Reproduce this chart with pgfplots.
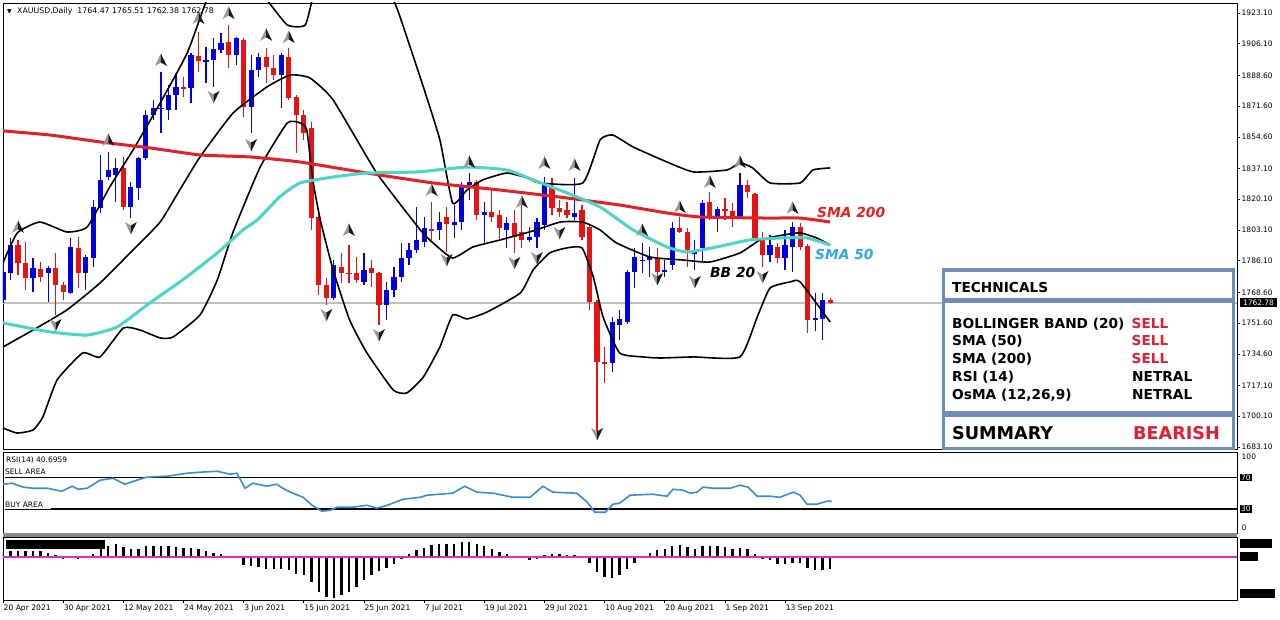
\documentclass[border=0pt]{standalone}
\usepackage{fontspec}
\setmainfont{DejaVu Sans}[ItalicFont={DejaVu Sans Oblique},BoldFont={DejaVu Sans Bold},BoldItalicFont={DejaVu Sans Bold Oblique}]
\usepackage{pgfplots}
\usepackage{pgfplotstable}
\pgfplotsset{compat=1.18}

\definecolor{bull}{RGB}{0,0,225}
\definecolor{bear}{RGB}{232,18,18}
\definecolor{smared}{RGB}{228,32,36}
\definecolor{smacyan}{RGB}{76,212,196}
\definecolor{smalbl}{RGB}{41,171,226}
\definecolor{rsiblue}{RGB}{56,140,220}
\definecolor{osmag}{RGB}{222,40,222}
\definecolor{boxblue}{RGB}{112,140,184}
\definecolor{sellred}{RGB}{226,30,48}

\pgfdeclareplotmark{fup}{%
 \pgfpathmoveto{\pgfqpoint{0pt}{6.5pt}}\pgfpathlineto{\pgfqpoint{-6pt}{-6pt}}\pgfpathlineto{\pgfqpoint{0pt}{-2.5pt}}\pgfpathclose
 \pgfsetfillcolor{black!40}\pgfusepath{fill}%
 \pgfpathmoveto{\pgfqpoint{0pt}{6.5pt}}\pgfpathlineto{\pgfqpoint{6pt}{-6pt}}\pgfpathlineto{\pgfqpoint{0pt}{-2.5pt}}\pgfpathclose
 \pgfsetfillcolor{black!90}\pgfusepath{fill}}
\pgfdeclareplotmark{fdown}{%
 \pgfpathmoveto{\pgfqpoint{0pt}{-6.5pt}}\pgfpathlineto{\pgfqpoint{-6pt}{6pt}}\pgfpathlineto{\pgfqpoint{0pt}{2.5pt}}\pgfpathclose
 \pgfsetfillcolor{black!40}\pgfusepath{fill}%
 \pgfpathmoveto{\pgfqpoint{0pt}{-6.5pt}}\pgfpathlineto{\pgfqpoint{6pt}{6pt}}\pgfpathlineto{\pgfqpoint{0pt}{2.5pt}}\pgfpathclose
 \pgfsetfillcolor{black!90}\pgfusepath{fill}}

\pgfplotstableread{
i o h l c
0 1764.4 1783.8 1762.7 1779.9
1 1779.3 1798.7 1775.5 1794.8
4 1776.6 1787.6 1768.8 1782.1
6 1779.3 1783.2 1763.3 1782.1
9 1768.3 1798.7 1767.7 1793.7
11 1779.3 1789.3 1769.9 1788.2
12 1787.6 1819.7 1782.6 1815.8
13 1815.3 1844.6 1812.5 1830.8
14 1832.4 1846.2 1830.8 1836.3
15 1833.5 1842.9 1818.6 1837.4
17 1815.8 1829.7 1809.7 1826.9
18 1826.3 1843.5 1819.7 1842.9
19 1842.9 1869.5 1841.8 1866.7
20 1866.7 1875.0 1863.9 1870.6
21 1870.0 1890.5 1856.7 1870.6
22 1869.5 1883.3 1863.9 1877.8
23 1877.8 1889.9 1869.5 1882.2
25 1881.6 1901.0 1873.3 1899.9
27 1896.0 1904.3 1884.4 1897.1
28 1897.1 1909.3 1882.2 1903.2
29 1902.6 1912.0 1901.0 1906.5
31 1899.9 1909.8 1894.4 1909.3
33 1871.1 1899.9 1856.7 1891.6
34 1891.6 1901.0 1887.7 1898.8
37 1888.8 1901.0 1870.6 1899.9
44 1765.5 1786.5 1764.4 1783.8
48 1774.4 1790.4 1772.7 1781.0
51 1761.6 1774.4 1753.3 1769.9
52 1769.9 1782.6 1766.1 1777.1
53 1777.1 1795.9 1774.4 1787.6
54 1787.6 1795.9 1783.8 1792.1
55 1792.1 1815.8 1790.4 1797.6
56 1796.5 1810.3 1793.7 1804.2
58 1803.1 1813.1 1797.6 1807.5
60 1805.9 1816.9 1798.7 1807.5
61 1807.5 1829.7 1803.1 1828.0
62 1828.0 1834.6 1819.7 1829.7
64 1811.4 1818.6 1794.8 1813.1
67 1803.1 1810.3 1793.2 1807.0
70 1797.6 1804.8 1796.5 1799.2
71 1799.2 1809.7 1793.2 1807.5
72 1805.9 1832.4 1803.1 1829.1
76 1810.3 1831.9 1808.6 1812.5
81 1729.6 1755.0 1724.6 1752.2
82 1750.6 1758.9 1742.3 1753.9
83 1752.2 1781.0 1751.1 1779.9
84 1779.9 1793.2 1771.0 1788.2
85 1786.0 1795.9 1779.3 1786.5
86 1786.5 1793.7 1777.1 1788.2
88 1780.4 1786.5 1777.1 1781.0
89 1783.8 1807.5 1781.0 1804.2
92 1789.9 1797.6 1781.0 1790.9
93 1793.2 1819.7 1785.4 1818.0
95 1810.3 1815.8 1802.0 1814.7
98 1810.3 1834.6 1809.7 1828.0
102 1789.3 1800.3 1785.4 1794.8
104 1787.6 1803.1 1781.0 1794.8
105 1793.7 1807.5 1779.9 1804.8
108 1753.3 1768.3 1747.3 1754.4
109 1753.9 1768.3 1742.3 1764.47
}\bulltab

\pgfplotstableread{
i o h l c
2 1794.8 1797.6 1778.2 1784.9
3 1784.9 1796.5 1769.9 1776.6
5 1781.5 1785.4 1774.4 1777.1
7 1782.1 1790.4 1756.1 1772.7
8 1772.7 1774.4 1764.4 1768.8
10 1793.2 1799.2 1771.0 1779.3
16 1837.4 1843.5 1814.2 1815.8
24 1882.2 1887.7 1876.7 1881.4
26 1899.3 1912.6 1890.5 1896.6
30 1907.1 1916.5 1892.7 1899.9
32 1908.2 1909.3 1865.6 1871.1
35 1898.8 1903.7 1884.4 1893.2
36 1892.7 1899.9 1886.1 1888.8
38 1898.8 1903.7 1875.0 1876.1
39 1876.7 1877.8 1845.7 1866.7
40 1866.7 1869.5 1852.9 1856.7
41 1859.5 1862.8 1803.1 1809.7
42 1810.3 1811.4 1767.2 1772.7
43 1772.7 1776.6 1761.6 1765.5
45 1782.6 1790.4 1773.8 1779.3
46 1779.3 1794.8 1773.8 1778.8
47 1779.3 1788.2 1773.8 1775.5
49 1782.1 1786.5 1771.6 1779.3
50 1779.3 1779.9 1750.6 1761.6
57 1803.7 1818.6 1797.6 1802.6
59 1810.3 1815.8 1790.9 1806.4
63 1829.7 1830.8 1808.6 1811.4
65 1813.1 1825.2 1807.5 1810.3
66 1811.4 1814.2 1797.6 1804.2
68 1807.0 1814.2 1790.4 1799.2
69 1802.0 1816.9 1793.2 1797.6
73 1826.9 1831.9 1811.4 1815.3
74 1815.3 1819.7 1810.3 1813.1
75 1814.2 1818.6 1809.7 1811.4
77 1814.2 1816.9 1797.6 1799.2
78 1804.8 1805.9 1758.9 1763.3
79 1763.3 1764.4 1688.1 1730.1
80 1730.1 1738.4 1718.5 1729.3
87 1787.6 1793.2 1774.4 1779.9
90 1804.2 1810.3 1801.5 1802.0
91 1802.0 1804.2 1782.6 1792.1
94 1818.6 1824.1 1808.6 1810.3
96 1814.7 1820.8 1808.6 1813.6
97 1813.6 1818.0 1804.8 1810.3
99 1828.0 1830.8 1820.8 1824.1
100 1823.0 1823.6 1797.6 1798.7
101 1797.6 1802.0 1782.6 1789.3
103 1793.7 1795.9 1784.9 1787.6
106 1804.8 1807.0 1792.1 1793.7
107 1794.3 1795.4 1746.2 1753.3
110 1764.47 1765.51 1762.38 1762.78
}\beartab

\newcommand\tickfont{\fontsize{7.5}{9}\selectfont}
\pgfplotsset{panel/.style={scale only axis, width=1234pt, xmin=0, xmax=164.1,
  axis line style={line width=0.8pt}, tick style={line width=0.6pt, black},
  major tick length=3pt, tick align=outside,
  /pgf/number format/assume math mode=true,
  ticklabel style={font=\tickfont}},
  candle/.style={draw=none, mark=none, error bars/.cd, y dir=both, y explicit, error mark=none,
  error bar style={line width=#1}}}

\begin{document}
\begin{tikzpicture}[x=1pt,y=1pt]
\useasboundingbox (0,0) rectangle (1280,620);

% ---------------- main price panel ----------------
\begin{axis}[panel, at={(3pt,171pt)}, anchor=south west, height=446pt,
  ymin=1681.99, ymax=1928.63, xtick=\empty,
  ytick={1683.1,1700.1,1717.1,1734.6,1751.6,1768.6,1786.1,1803.1,1820.1,1837.1,1854.6,1871.6,1888.6,1906.1,1923.1},
  ytick pos=right, yticklabel pos=right, scaled y ticks=false,
  yticklabel style={anchor=west, inner sep=0pt, xshift=1.5pt,
    /pgf/number format/fixed, /pgf/number format/fixed zerofill,
    /pgf/number format/precision=2, /pgf/number format/1000 sep={}}]
% current price line
\addplot[black!25, line width=1.4pt] coordinates {(0,1762.78) (164.1,1762.78)};
% candles: wicks and bodies
\addplot[candle=1.2pt, error bar style={draw=bull}]
  table[x=i, y expr={(\thisrow{h}+\thisrow{l})/2}, y error expr={(\thisrow{h}-\thisrow{l})/2}] {\bulltab};
\addplot[candle=1.2pt, error bar style={draw=bear}]
  table[x=i, y expr={(\thisrow{h}+\thisrow{l})/2}, y error expr={(\thisrow{h}-\thisrow{l})/2}] {\beartab};
\addplot[candle=5.2pt, error bar style={draw=bull}]
  table[x=i, y expr={(\thisrow{o}+\thisrow{c})/2}, y error expr={max(abs(\thisrow{o}-\thisrow{c})/2,0.5)}] {\bulltab};
\addplot[candle=5.2pt, error bar style={draw=bear}]
  table[x=i, y expr={(\thisrow{o}+\thisrow{c})/2}, y error expr={max(abs(\thisrow{o}-\thisrow{c})/2,0.5)}] {\beartab};
% Bollinger bands (20)
\addplot[black, line width=1.6pt, smooth, tension=0.3] coordinates {(0,1784.9)(1.9,1801.5)(4.9,1807.5)(8.5,1802.0)(11.2,1804.8)(14.2,1826.9)(17.3,1847.4)(20.9,1873.3)(24.5,1901.0)(27.1,1930.3)(29.5,1946.9)(32.8,1941.4)(35.1,1930.3)(37.8,1916.5)(40.2,1916.5)(41.5,1935.8)(44.8,1963.5)(48.8,1952.4)(51.9,1930.3)(52.8,1920.9)(55.9,1882.2)(58.1,1852.9)(59.8,1818.0)(61.7,1825.2)(63.8,1830.8)(67.0,1834.6)(69.7,1831.9)(71.4,1829.1)(77.1,1829.1)(79.4,1852.9)(81.1,1855.6)(83.8,1849.0)(88.3,1840.7)(91.8,1835.2)(96.3,1836.3)(98.0,1840.2)(99.7,1837.4)(102.0,1829.1)(106.0,1829.1)(107.7,1836.3)(110.0,1837.4)};
\addplot[black, line width=1.6pt, smooth, tension=0.3] coordinates {(0,1738.4)(4.0,1747.8)(8.5,1758.9)(12.9,1773.8)(17.3,1792.1)(20.9,1807.5)(23.5,1825.2)(26.2,1843.5)(30.6,1867.8)(35.1,1882.2)(38.2,1888.8)(40.8,1887.2)(43.9,1875.0)(49.7,1834.6)(55.5,1803.1)(57.2,1795.9)(59.8,1787.6)(62.5,1793.7)(66.1,1797.6)(70.5,1802.6)(74.1,1807.5)(77.1,1807.5)(79.4,1803.1)(81.6,1795.9)(86.0,1788.2)(90.4,1786.5)(94.0,1785.4)(98.0,1790.4)(100.7,1797.6)(103.7,1800.3)(106.0,1801.5)(108.2,1798.7)(110.0,1794.8)};
\addplot[black, line width=1.6pt, smooth, tension=0.3] coordinates {(0,1693.6)(1.9,1690.8)(4.0,1692.5)(5.3,1699.7)(7.2,1720.2)(10.6,1735.1)(12.9,1732.9)(16.0,1748.9)(18.2,1747.8)(20.9,1743.4)(22.6,1743.9)(26.2,1756.1)(28.5,1775.5)(30.6,1802.0)(34.2,1837.9)(37.8,1862.3)(39.5,1862.3)(40.4,1858.4)(41.2,1830.8)(42.2,1808.6)(43.9,1781.0)(46.1,1753.3)(48.4,1735.1)(51.9,1714.6)(53.7,1713.0)(55.9,1721.8)(58.1,1738.4)(59.8,1756.1)(61.7,1753.9)(64.4,1757.8)(68.8,1768.3)(70.5,1781.0)(72.7,1790.4)(75.0,1793.2)(77.0,1793.2)(78.5,1777.1)(79.8,1755.0)(82.0,1735.1)(85.1,1732.9)(87.4,1732.3)(91.8,1732.9)(98.0,1732.9)(100.3,1755.0)(102.0,1771.0)(104.7,1774.4)(106.0,1774.4)(110.0,1752.2)};
% SMA 200 and SMA 50
\addplot[smared, line width=3pt, smooth, tension=0.3] coordinates {(0,1857.9)(6.3,1855.6)(12.9,1851.8)(19.5,1848.5)(26.2,1844.6)(32.8,1843.5)(39.5,1840.7)(48.4,1834.6)(57.2,1829.1)(66.1,1825.2)(75.0,1820.8)(82.0,1816.9)(88.3,1812.5)(92.7,1810.3)(101.6,1809.7)(106.0,1809.7)(110.0,1807.5)};
\addplot[smacyan, line width=3pt, smooth, tension=0.3] coordinates {(0,1751.7)(6.3,1746.7)(11.2,1745.0)(15.2,1749.5)(19.5,1762.7)(23.9,1775.5)(28.5,1790.4)(31.9,1803.1)(33.8,1808.6)(36.8,1821.4)(39.5,1829.1)(43.9,1832.4)(48.4,1834.6)(55.1,1835.2)(61.7,1837.9)(67.0,1836.3)(70.5,1830.8)(75.0,1823.6)(79.4,1815.8)(83.8,1803.1)(88.3,1793.7)(91.0,1790.9)(94.9,1793.7)(99.3,1797.6)(103.7,1798.7)(106.9,1798.7)(110.0,1794.8)};
% fractals
\addplot[only marks, mark=fup] coordinates {(2,1804.8)(14,1852.9)(21,1897.1)(26,1920.3)(30,1923.1)(35,1911.0)(38,1909.8)(46,1803.1)(57,1825.2)(62,1840.7)(69,1818.6)(72,1840.2)(76,1839.1)(85,1803.1)(90,1815.8)(94,1829.7)(98,1840.7)(105,1815.3)};
\addplot[only marks, mark=fdown] coordinates {(7,1750.6)(17,1804.2)(28,1876.7)(33,1850.1)(43,1756.1)(50,1745.0)(59,1786.5)(68,1784.9)(71,1787.6)(74,1801.5)(79,1690.3)(87,1776.0)(92,1774.4)(101,1777.1)};
\end{axis}

% ---------------- RSI panel ----------------
\begin{axis}[panel, at={(3pt,87pt)}, anchor=south west, height=81pt,
  ymin=0, ymax=102.2, xtick=\empty, ytick=\empty]
\addplot[black, line width=1.6pt] coordinates {(6.4,70) (164.1,70)};
\addplot[black, line width=1.6pt] coordinates {(6.4,30) (164.1,30)};
\addplot[black, line width=0.6pt] coordinates {(0.2,70) (6.4,70)};
\addplot[black, line width=0.6pt] coordinates {(0.2,30) (6.4,30)};
\addplot[rsiblue, line width=1.6pt] coordinates {(0,61.5)(1.2,62.8)(2.7,57.8)(4.0,56.5)(5.9,56.5)(7.8,52.7)(9.2,59.0)(10.0,55.2)(11.2,56.5)(12.9,66.6)(14.6,69.1)(16.2,61.5)(17.8,66.6)(19.1,70.4)(21.8,71.6)(24.5,75.4)(26.2,76.7)(28.5,77.9)(30.2,74.2)(31.1,75.4)(32.2,56.5)(33.2,62.8)(35.1,59.0)(36.4,61.5)(37.2,56.5)(38.2,51.5)(39.9,45.1)(41.1,35.0)(42.4,27.5)(43.5,28.7)(44.4,32.5)(46.5,32.5)(48.4,35.0)(49.7,31.3)(51.1,35.0)(53.2,42.6)(55.5,45.1)(56.4,47.7)(59.8,50.2)(61.4,59.0)(63.0,51.5)(65.2,50.2)(67.8,45.1)(70.1,45.1)(71.8,59.0)(73.1,51.5)(76.3,50.2)(77.7,38.8)(78.7,26.2)(80.1,26.2)(81.1,36.3)(82.0,37.6)(83.4,47.7)(86.4,48.9)(88.3,46.4)(89.1,55.2)(90.4,54.0)(91.4,50.2)(92.3,51.5)(93.1,57.8)(94.4,56.5)(96.7,56.5)(98.0,60.3)(99.1,57.8)(100.3,46.4)(102.0,46.4)(103.3,45.1)(105.1,51.5)(106.0,47.7)(106.9,36.3)(108.2,36.3)(109.6,40.1)(110.2,40.1)};
\end{axis}

% ---------------- OsMA panel ----------------
\begin{axis}[panel, at={(3pt,20pt)}, anchor=south west, height=63pt,
  ymin=-43, ymax=20, ytick=\empty,
  xtick={0,8,16,24,32,40,48,56,64,72,80,88,96,104}, xtick pos=left,
  xticklabels={20 Apr 2021,30 Apr 2021,12 May 2021,24 May 2021,3 Jun 2021,15 Jun 2021,25 Jun 2021,7 Jul 2021,19 Jul 2021,29 Jul 2021,10 Aug 2021,20 Aug 2021,1 Sep 2021,13 Sep 2021},
  xticklabel style={anchor=north west, inner sep=0pt, xshift=0.5pt, yshift=-2pt, font=\fontsize{7.6}{9}\selectfont}]
\addplot[ycomb, black, line width=2.4pt] coordinates {(0,6)(1,5.7)(2,5.7)(3,5.7)(4,5.7)(5,5.7)(6,4.3)(7,1.7)(8,-1.7)(9,0.5)(10,-1.7)(11,0.5)(12,3.3)(13,8)(14,11)(15,12.7)(16,10)(17,8.3)(18,8.3)(19,11)(20,11)(21,11)(22,11)(23,10)(24,9.3)(25,9)(26,8.3)(27,5.7)(28,4.3)(29,3.3)(30,0.5)(31,0.3)(32,-7.7)(33,-9.3)(34,-10)(35,-11.7)(36,-12.3)(37,-12.3)(38,-13.3)(39,-16.7)(40,-18.3)(41,-25)(42,-35)(43,-40)(44,-40.7)(45,-38.3)(46,-35)(47,-30)(48,-23.3)(49,-18.3)(50,-14.3)(51,-11)(52,-6.7)(53,-1.7)(54,3.3)(55,6.7)(56,9.3)(57,11.7)(58,13.3)(59,13.3)(60,13.3)(61,15)(62,15)(63,13.3)(64,10.7)(65,8.3)(66,5)(67,3.3)(68,1)(69,0.3)(70,-2.7)(71,-1.7)(72,2.3)(73,3.3)(74,3.3)(75,2.3)(76,2.3)(77,1)(78,-5.7)(79,-15)(80,-20)(81,-20.7)(82,-18.3)(83,-11.7)(84,-5.7)(85,0.3)(86,4.3)(87,6.7)(88,8.3)(89,11)(90,12.3)(91,10)(92,8.3)(93,11)(94,11)(95,11)(96,10)(97,8.3)(98,9)(99,8.3)(100,3.3)(101,-1.7)(102,-3.3)(103,-6.7)(104,-7.3)(105,-5.7)(106,-5.7)(107,-11)(108,-12.7)(109,-12.7)(110,-12.3)};
\addplot[osmag, line width=1.6pt] coordinates {(0,0) (164.1,0)};
\end{axis}

% separator between RSI and OsMA
\fill[black!45] (3,83) rectangle (1237,87.3);

% ---------------- overlays / text ----------------
\node[anchor=base west, inner sep=0pt, font=\fontsize{6}{7}\selectfont] at (7,606.8) {▼};
\node[anchor=base west, inner sep=0pt, font=\fontsize{7.8}{9}\selectfont] at (17,606.5) {XAUUSD,Daily\ \ 1764.47 1765.51 1762.38 1762.78};

\node[font=\fontsize{13.8}{15}\selectfont\bfseries\itshape, text=smared, anchor=west, inner sep=0pt] at (817,408) {SMA 200};
\node[font=\fontsize{13.8}{15}\selectfont\bfseries\itshape, text=smalbl, anchor=west, inner sep=0pt] at (815,366) {SMA 50};
\node[font=\fontsize{13.8}{15}\selectfont\bfseries\itshape, text=black, anchor=west, inner sep=0pt] at (710,348) {BB 20};

% price box
\node[fill=black, text=white, inner sep=0pt, minimum width=37pt, minimum height=9.5pt, font=\tickfont] at (1258.5,317.5) {1762.78};

% RSI labels
\node[anchor=west, inner sep=0pt, font=\tickfont] at (1241.5,163) {100};
\node[fill=black, text=white, inner sep=1pt, font=\tickfont, anchor=west] at (1240,142.5) {70};
\node[fill=black, text=white, inner sep=1pt, font=\tickfont, anchor=west] at (1240,111) {30};
\node[anchor=west, inner sep=0pt, font=\tickfont] at (1241.5,92) {0};
\node[anchor=base west, inner sep=0pt, font=\fontsize{7.5}{9}\selectfont] at (6,157) {RSI(14) 40.6959};
\node[anchor=base west, inner sep=0pt, font=\fontsize{7.5}{9}\selectfont] at (5,145) {SELL AREA};
\node[anchor=base west, inner sep=0pt, font=\fontsize{7.5}{9}\selectfont] at (5,112) {BUY AREA};

% OsMA hidden label boxes
\fill[black] (6,71) rectangle (105,80);
\fill[black] (1240,72) rectangle (1272,81);
\fill[black] (1240,59) rectangle (1258,68);
\fill[black] (1240,22) rectangle (1275,31);

% technicals box
\filldraw[draw=boxblue, fill=white, line width=3.2pt] (943.3,350) rectangle (1233.3,320.5);
\filldraw[draw=boxblue, fill=white, line width=3.2pt] (943.3,318.5) rectangle (1233.3,207.5);
\filldraw[draw=boxblue, fill=white, line width=3.2pt] (943.3,205) rectangle (1233.3,171.7);
\begin{scope}[every node/.style={anchor=base west, inner sep=0pt, font=\fontsize{13.7}{15}\selectfont\bfseries}]
\node at (952,327.3) {TECHNICALS};
\node at (952,291.7) {BOLLINGER BAND (20)};
\node at (952,274) {SMA (50)};
\node at (952,256) {SMA (200)};
\node at (952,238) {RSI (14)};
\node at (952,220) {OsMA (12,26,9)};
\node[text=sellred] at (1131.5,291.7) {SELL};
\node[text=sellred] at (1131.5,274) {SELL};
\node[text=sellred] at (1131.5,256) {SELL};
\node at (1132,238) {NETRAL};
\node at (1132,220) {NETRAL};
\node[font=\fontsize{17.6}{19}\selectfont\bfseries] at (952,180) {SUMMARY};
\node[font=\fontsize{17.6}{19}\selectfont\bfseries, text=sellred] at (1133,180) {BEARISH};
\end{scope}
\end{tikzpicture}
\end{document}
